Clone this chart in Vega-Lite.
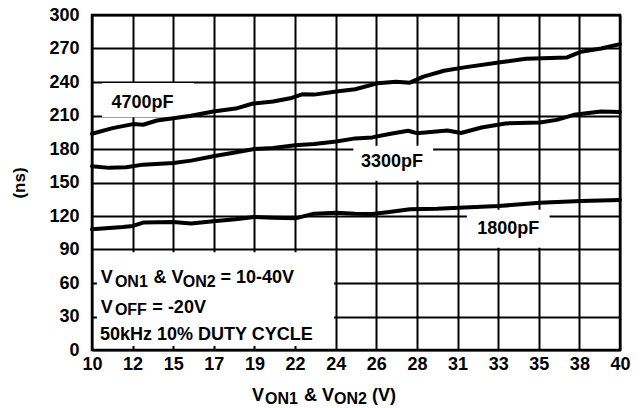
{
  "$schema": "https://vega.github.io/schema/vega-lite/v6.json",
  "width": 528,
  "height": 335,
  "autosize": {"type": "none"},
  "padding": {"left": 92, "top": 15, "right": 23, "bottom": 58},
  "background": "white",
  "config": {
    "view": {"stroke": "black", "strokeWidth": 2.5},
    "axis": {
      "domain": false,
      "ticks": false,
      "tickSize": 0,
      "grid": true,
      "gridColor": "black",
      "gridWidth": 2,
      "gridOpacity": 1,
      "labelFont": "Liberation Sans",
      "labelFontWeight": "bold",
      "labelFontSize": 18,
      "labelColor": "black",
      "labelOverlap": false,
      "labelBound": false,
      "labelFlush": false,
      "titleFont": "Liberation Sans",
      "titleFontWeight": "bold",
      "titleColor": "black"
    },
    "text": {"font": "Liberation Sans", "fontWeight": "bold", "color": "black"}
  },
  "datasets": {
    "boxes": [
      {"x": 10.57, "x2": 15.8, "y": 208.5, "y2": 239},
      {"x": 24.85, "x2": 29.38, "y": 151.5, "y2": 183},
      {"x": 31.3, "x2": 36.0, "y": 91.5, "y2": 125.5},
      {"x": 10.28, "x2": 23.75, "y": 3.6, "y2": 87.5}
    ],
    "curves": [
      {"series": "4700pF", "x": 10, "y": 193.7},
      {"series": "4700pF", "x": 11.17, "y": 198.7},
      {"series": "4700pF", "x": 12.33, "y": 202.3},
      {"series": "4700pF", "x": 12.9, "y": 201.7},
      {"series": "4700pF", "x": 13.69, "y": 205.5},
      {"series": "4700pF", "x": 14.62, "y": 207.6},
      {"series": "4700pF", "x": 15.63, "y": 209.7},
      {"series": "4700pF", "x": 16.89, "y": 213.6},
      {"series": "4700pF", "x": 18.16, "y": 216.2},
      {"series": "4700pF", "x": 19.1, "y": 220.5},
      {"series": "4700pF", "x": 20.29, "y": 222.5},
      {"series": "4700pF", "x": 21.26, "y": 225.4},
      {"series": "4700pF", "x": 21.94, "y": 229},
      {"series": "4700pF", "x": 22.62, "y": 228.7},
      {"series": "4700pF", "x": 23.88, "y": 231.4},
      {"series": "4700pF", "x": 24.95, "y": 233.5},
      {"series": "4700pF", "x": 26.21, "y": 238.8},
      {"series": "4700pF", "x": 27.28, "y": 240.3},
      {"series": "4700pF", "x": 28.06, "y": 239.4},
      {"series": "4700pF", "x": 28.83, "y": 244.8},
      {"series": "4700pF", "x": 30.0, "y": 250.1},
      {"series": "4700pF", "x": 31.16, "y": 253.1},
      {"series": "4700pF", "x": 33.1, "y": 257.5},
      {"series": "4700pF", "x": 34.66, "y": 260.8},
      {"series": "4700pF", "x": 36.99, "y": 262},
      {"series": "4700pF", "x": 37.77, "y": 267},
      {"series": "4700pF", "x": 38.93, "y": 270},
      {"series": "4700pF", "x": 40, "y": 273.9},
      {"series": "3300pF", "x": 10, "y": 164.6},
      {"series": "3300pF", "x": 10.97, "y": 163.1},
      {"series": "3300pF", "x": 11.94, "y": 163.7},
      {"series": "3300pF", "x": 12.9, "y": 166},
      {"series": "3300pF", "x": 14.62, "y": 167.5},
      {"series": "3300pF", "x": 15.63, "y": 169.6},
      {"series": "3300pF", "x": 16.89, "y": 173.5},
      {"series": "3300pF", "x": 17.96, "y": 176.4},
      {"series": "3300pF", "x": 19.22, "y": 180},
      {"series": "3300pF", "x": 20.29, "y": 180.9},
      {"series": "3300pF", "x": 21.55, "y": 183.3},
      {"series": "3300pF", "x": 22.62, "y": 184.5},
      {"series": "3300pF", "x": 23.88, "y": 186.8},
      {"series": "3300pF", "x": 24.95, "y": 189.5},
      {"series": "3300pF", "x": 25.92, "y": 190.4},
      {"series": "3300pF", "x": 26.89, "y": 193.4},
      {"series": "3300pF", "x": 27.96, "y": 196.3},
      {"series": "3300pF", "x": 28.45, "y": 194.2},
      {"series": "3300pF", "x": 30.19, "y": 196.6},
      {"series": "3300pF", "x": 30.97, "y": 194.3},
      {"series": "3300pF", "x": 32.13, "y": 199.3},
      {"series": "3300pF", "x": 33.49, "y": 202.9},
      {"series": "3300pF", "x": 35.44, "y": 203.8},
      {"series": "3300pF", "x": 36.41, "y": 206.1},
      {"series": "3300pF", "x": 37.38, "y": 210.6},
      {"series": "3300pF", "x": 38.93, "y": 213.6},
      {"series": "3300pF", "x": 40, "y": 213.2},
      {"series": "1800pF", "x": 10, "y": 108.1},
      {"series": "1800pF", "x": 11.75, "y": 110.2},
      {"series": "1800pF", "x": 12.33, "y": 111.1},
      {"series": "1800pF", "x": 12.9, "y": 114.1},
      {"series": "1800pF", "x": 14.62, "y": 114.7},
      {"series": "1800pF", "x": 15.63, "y": 113.2},
      {"series": "1800pF", "x": 16.89, "y": 115.3},
      {"series": "1800pF", "x": 18.16, "y": 117.1},
      {"series": "1800pF", "x": 19.22, "y": 119.1},
      {"series": "1800pF", "x": 20.29, "y": 118.5},
      {"series": "1800pF", "x": 21.55, "y": 117.9},
      {"series": "1800pF", "x": 22.62, "y": 122.1},
      {"series": "1800pF", "x": 23.88, "y": 123},
      {"series": "1800pF", "x": 24.95, "y": 122.1},
      {"series": "1800pF", "x": 25.92, "y": 121.8},
      {"series": "1800pF", "x": 26.89, "y": 123.6},
      {"series": "1800pF", "x": 28.06, "y": 126},
      {"series": "1800pF", "x": 29.61, "y": 126.5},
      {"series": "1800pF", "x": 30.83, "y": 127.4},
      {"series": "1800pF", "x": 33.1, "y": 128.9},
      {"series": "1800pF", "x": 35.44, "y": 131.9},
      {"series": "1800pF", "x": 37.77, "y": 133.4},
      {"series": "1800pF", "x": 40, "y": 134.3}
    ],
    "curveLabels": [
      {"label": "4700pF", "x": 12.87, "y": 221},
      {"label": "3300pF", "x": 27.05, "y": 168.3},
      {"label": "1800pF", "x": 33.65, "y": 108.7}
    ],
    "notes": [
      {"label": "V", "x": 10.5, "y": 59.7},
      {"label": "& V", "x": 13.5, "y": 59.7},
      {"label": "= 10-40V", "x": 17.3, "y": 59.7},
      {"label": "V", "x": 10.5, "y": 33.4},
      {"label": "= -20V", "x": 13.43, "y": 33.4},
      {"label": "50kHz 10% DUTY CYCLE", "x": 10.45, "y": 9.0},
      {"label": "V", "x": 19.09, "y": -46.1},
      {"label": "& V", "x": 22.045, "y": -46.1},
      {"label": "(V)", "x": 25.91, "y": -46.1}
    ],
    "subs": [
      {"label": "ON1", "x": 11.3, "y": 56.7},
      {"label": "ON2", "x": 15.16, "y": 56.7},
      {"label": "OFF", "x": 11.3, "y": 31.3},
      {"label": "ON1", "x": 19.83, "y": -48.8},
      {"label": "ON2", "x": 23.75, "y": -48.8}
    ]
  },
  "layer": [
    {
      "data": {"name": "boxes"},
      "mark": {"type": "rect", "fill": "white", "strokeWidth": 0},
      "encoding": {
        "x": {
          "field": "x",
          "type": "quantitative",
          "scale": {"domain": [10, 40], "nice": false, "zero": false},
          "axis": {
            "values": [10, 12.3077, 14.6154, 16.9231, 19.2308, 21.5385, 23.8462, 26.1538, 28.4615, 30.7692, 33.0769, 35.3846, 37.6923, 40],
            "tickCount": 30,
            "format": ".0f",
            "labelPadding": 5,
            "title": null
          }
        },
        "x2": {"field": "x2"},
        "y": {
          "field": "y",
          "type": "quantitative",
          "scale": {"domain": [0, 300], "nice": false, "zero": true},
          "axis": {
            "values": [0, 30, 60, 90, 120, 150, 180, 210, 240, 270, 300],
            "tickCount": 30,
            "labelPadding": 13,
            "title": "(ns)",
            "titleFontSize": 17,
            "titlePadding": 20
          }
        },
        "y2": {"field": "y2"}
      }
    },
    {
      "data": {"name": "curves"},
      "mark": {"type": "line", "color": "black", "strokeWidth": 4, "strokeJoin": "round", "strokeCap": "round"},
      "encoding": {
        "x": {"field": "x", "type": "quantitative"},
        "y": {"field": "y", "type": "quantitative"},
        "detail": {"field": "series"}
      }
    },
    {
      "data": {"name": "curveLabels"},
      "mark": {"type": "text", "fontSize": 18, "align": "center", "baseline": "middle"},
      "encoding": {
        "x": {"field": "x", "type": "quantitative"},
        "y": {"field": "y", "type": "quantitative"},
        "text": {"field": "label"}
      }
    },
    {
      "data": {"name": "notes"},
      "mark": {"type": "text", "fontSize": 18, "align": "left", "baseline": "alphabetic"},
      "encoding": {
        "x": {"field": "x", "type": "quantitative"},
        "y": {"field": "y", "type": "quantitative"},
        "text": {"field": "label"}
      }
    },
    {
      "data": {"name": "subs"},
      "mark": {"type": "text", "fontSize": 16, "align": "left", "baseline": "alphabetic"},
      "encoding": {
        "x": {"field": "x", "type": "quantitative"},
        "y": {"field": "y", "type": "quantitative"},
        "text": {"field": "label"}
      }
    }
  ]
}
